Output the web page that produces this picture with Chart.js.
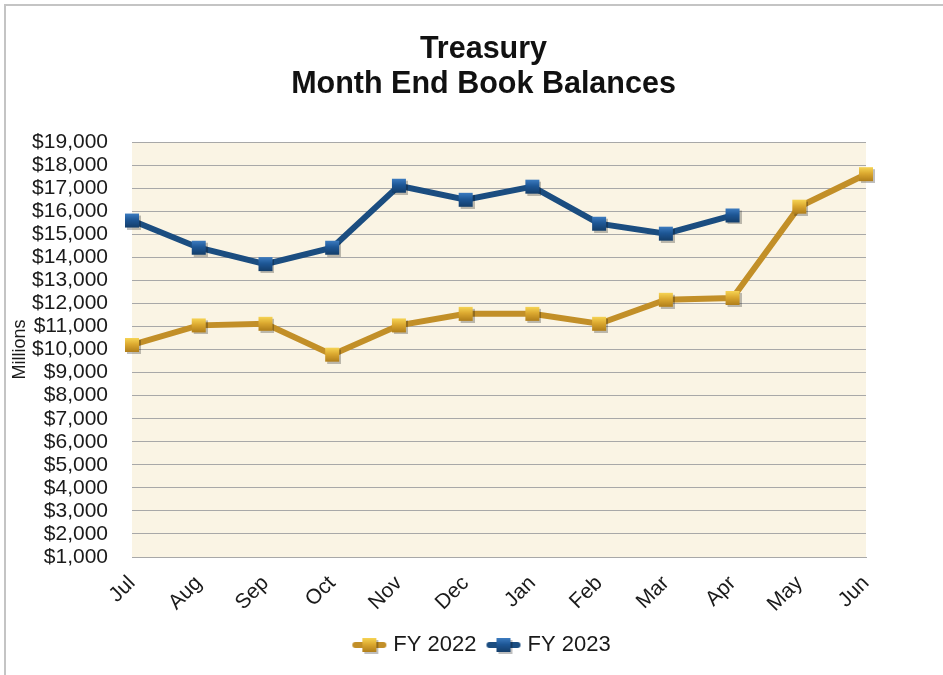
<!DOCTYPE html>
<html>
<head>
<meta charset="utf-8">
<title>Treasury Month End Book Balances</title>
<script src="https://cdn.jsdelivr.net/npm/chart.js@4.4.1/dist/chart.umd.min.js"></script>
<style>
    html, body { margin: 0; padding: 0; background: #ffffff; }
    #wrap { width: 943px; height: 675px; }
</style>
</head>
<body>
<div id="wrap"><canvas id="balanceChart" width="943" height="675"></canvas></div>
<script>
// Chart data (millions)
const months = ['Jul', 'Aug', 'Sep', 'Oct', 'Nov', 'Dec', 'Jan', 'Feb', 'Mar', 'Apr', 'May', 'Jun'];
const fy2022 = [10200, 11050, 11120, 9780, 11050, 11550, 11550, 11120, 12160, 12240, 16200, 17610];
const fy2023 = [15600, 14420, 13710, 14420, 17110, 16500, 17070, 15460, 15030, 15820, null, null];
const yMin = 1000;
const yMax = 19000;
const yStep = 1000;

const FONT = '"Liberation Sans", Arial, Helvetica, sans-serif';
const BLUE = '#1b4d80';
const GOLD = '#c28f28';

// square marker with a bit of bevel + shadow
function makeMarker(light, mid, dark) {
    const c = document.createElement('canvas');
    c.width = 18;
    c.height = 18;
    const g = c.getContext('2d');
    g.fillStyle = 'rgba(0,0,0,0.25)';
    g.fillRect(4, 4, 14, 14);
    const grad = g.createLinearGradient(0, 2, 0, 16);
    grad.addColorStop(0, light);
    grad.addColorStop(0.45, mid);
    grad.addColorStop(1, dark);
    g.fillStyle = grad;
    g.fillRect(2, 2, 14, 14);
    return c;
}

function makeLegendIcon(lineColor, marker) {
    const c = document.createElement('canvas');
    c.width = 36;
    c.height = 20;
    const g = c.getContext('2d');
    g.strokeStyle = lineColor;
    g.lineWidth = 6;
    g.lineCap = 'round';
    g.beginPath();
    g.moveTo(4, 10);
    g.lineTo(32, 10);
    g.stroke();
    g.drawImage(marker, 9, 1);
    return c;
}

const goldMarker = makeMarker('#f6d454', '#dca930', '#b07e1a');
const blueMarker = makeMarker('#3d7cc0', '#1e5796', '#143e6a');
const legendIcons = [makeLegendIcon(GOLD, goldMarker), makeLegendIcon(BLUE, blueMarker)];

// plot background + outer frame
const backdrop = {
    id: 'backdrop',
    beforeDraw(chart) {
        const { ctx, chartArea } = chart;
        ctx.save();
        ctx.fillStyle = '#ffffff';
        ctx.fillRect(0, 0, chart.width, chart.height);
        ctx.fillStyle = '#faf4e4';
        ctx.fillRect(chartArea.left, chartArea.top, chartArea.right - chartArea.left, chartArea.bottom - chartArea.top);
        ctx.strokeStyle = '#c4c4c4';
        ctx.lineWidth = 2;
        ctx.strokeRect(5, 5, chart.width + 20, chart.height + 20);
        ctx.restore();
    }
};

const ctx = document.getElementById('balanceChart').getContext('2d');

new Chart(ctx, {
    type: 'line',
    data: {
        labels: months,
        datasets: [{
            label: 'FY 2022',
            data: fy2022,
            borderColor: GOLD,
            borderWidth: 6,
            pointStyle: goldMarker,
            tension: 0
        }, {
            label: 'FY 2023',
            data: fy2023,
            borderColor: BLUE,
            borderWidth: 6,
            pointStyle: blueMarker,
            tension: 0
        }]
    },
    options: {
        responsive: false,
        devicePixelRatio: 1,
        animation: false,
        layout: {
            // left padding shifts the centred title/legend to the right like the original
            padding: { top: 0, right: 0, bottom: 9, left: 24 }
        },
        plugins: {
            title: {
                display: true,
                text: ['Treasury', 'Month End Book Balances'],
                color: '#111111',
                font: { family: FONT, size: 30.5, weight: 'bold', lineHeight: 1.15 },
                padding: { top: 32, bottom: 40 }
            },
            legend: {
                position: 'bottom',
                labels: {
                    color: '#1a1a1a',
                    font: { family: FONT, size: 22 },
                    usePointStyle: true,
                    pointStyleWidth: 26,
                    padding: 14,
                    generateLabels(chart) {
                        const items = Chart.defaults.plugins.legend.labels.generateLabels(chart);
                        return items.map((item, i) => Object.assign(item, { pointStyle: legendIcons[i] }));
                    }
                }
            },
            tooltip: { enabled: false }
        },
        scales: {
            x: {
                offset: false,
                grid: { display: false },
                border: { display: true, color: '#a8a8a8' },
                ticks: {
                    color: '#1a1a1a',
                    font: { family: FONT, size: 21 },
                    minRotation: 45,
                    maxRotation: 45,
                    autoSkip: false,
                    padding: 6
                },
                afterFit(scale) { scale.height = 63; }
            },
            y: {
                min: yMin,
                max: yMax,
                border: { display: false },
                grid: { color: '#a8a8a8', lineWidth: 1, drawTicks: false },
                ticks: {
                    stepSize: yStep,
                    autoSkip: false,
                    color: '#1a1a1a',
                    font: { family: FONT, size: 21 },
                    padding: 24,
                    callback: v => '$' + v.toLocaleString('en-US')
                },
                title: {
                    display: true,
                    text: 'Millions',
                    color: '#1a1a1a',
                    font: { family: FONT, size: 18 },
                    padding: { top: -15, bottom: 0 }
                },
                afterFit(scale) { scale.width = 108; }
            },
            // empty right-hand axis, only keeps the plot's right edge where the original has it
            spacer: {
                position: 'right',
                display: true,
                grid: { display: false },
                border: { display: false },
                ticks: { display: false },
                afterFit(scale) { scale.width = 77; }
            }
        }
    },
    plugins: [backdrop]
});
</script>
</body>
</html>
